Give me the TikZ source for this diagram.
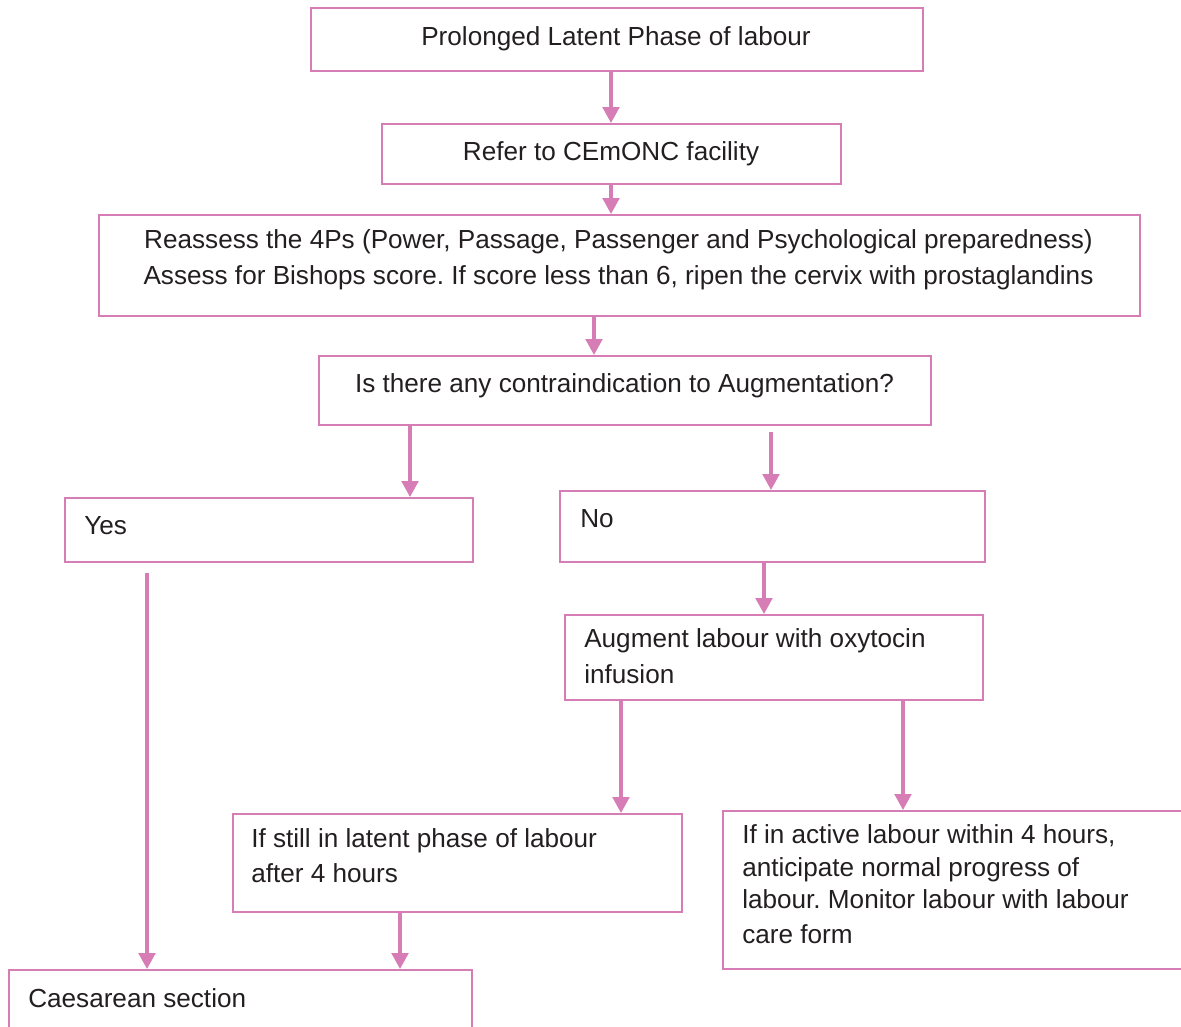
\documentclass[tikz,border=0pt]{standalone}
\usepackage{fontspec}
\setmainfont{Liberation Sans}
\usetikzlibrary{arrows.meta}
\definecolor{flow}{HTML}{D77DB5}
\definecolor{ink}{HTML}{231F20}
\frenchspacing
\begin{document}
\begin{tikzpicture}[x=0.75pt,y=-0.75pt,
  box/.style 2 args={draw=flow, line width=1.5pt, inner sep=0pt, anchor=north west,
    minimum width=#1*0.75pt, minimum height=#2*0.75pt},
  txt/.style={inner sep=0pt, text=ink, font=\fontsize{19.6}{24}\selectfont},
  lt/.style={txt, anchor=base west},
  ct/.style={txt, anchor=base},
  arr/.style={draw=flow, line width=2.4pt,
    -{Triangle[width=12.5pt,length=12pt]}}]
\useasboundingbox (0,0) rectangle (1181,1026);
\clip (0,0) rectangle (1181,1026);

% boxes
\node[box={612}{63}]  (start)  at (310,7) {};
\node[box={459}{60}]  (refer)  at (381,123) {};
\node[box={1041}{101}] (assess) at (98,214) {};
\node[box={612}{69}]  (contra) at (318,355) {};
\node[box={408}{64}]  (yes)    at (64,497) {};
\node[box={425}{71}]  (no)     at (559,490) {};
\node[box={418}{85}]  (augm)   at (564,614) {};
\node[box={449}{98}]  (latent) at (232,813) {};
\node[box={500}{158}] (active) at (722,810) {};
\node[box={463}{90}]  (cs)     at (8,969) {};

% texts
\node[ct] (tstart) at (616,45) {Prolonged Latent Phase of labour};
\node[ct] (trefer) at (611,160) {Refer to CEmONC facility};
\node[ct] (tas1) at (618.5,248) {Reassess the 4Ps (Power, Passage, Passenger and Psychological preparedness)};
\node[ct] (tas2) at (618.5,284) {Assess for Bishops score. If score less than 6, ripen the cervix with prostaglandins};
\node[ct] (tcontra) at (624.5,392) {Is there any contraindication to Augmentation?};
\node[lt] (tyes) at (84,534) {Yes};
\node[lt] (tno) at (580,527) {No};
\node[lt] (taug1) at (584,647) {Augment labour with oxytocin};
\node[lt] (taug2) at (584,683) {infusion};
\node[lt] (tlat1) at (251,847) {If still in latent phase of labour};
\node[lt] (tlat2) at (251,882) {after 4 hours};
\node[lt] (tact1) at (742,843) {If in active labour within 4 hours,};
\node[lt] (tact2) at (742,876) {anticipate normal progress of};
\node[lt] (tact3) at (742,908) {labour. Monitor labour with labour};
\node[lt] (tact4) at (742,943) {care form};
\node[lt] (tcs) at (28,1007) {Caesarean section};

% free starts of two connectors
\coordinate (noin) at (771,432);
\coordinate (yesout) at (147,573);

% connectors
\draw[arr] (611,0 |- start.south) -- (611,0 |- refer.north);
\draw[arr] (611,0 |- refer.south) -- (611,0 |- assess.north);
\draw[arr] (594,0 |- assess.south) -- (594,0 |- contra.north);
\draw[arr] (410,0 |- contra.south) -- (410,0 |- yes.north);
\draw[arr] (noin) -- (noin |- no.north);
\draw[arr] (764,0 |- no.south) -- (764,0 |- augm.north);
\draw[arr] (621,0 |- augm.south) -- (621,0 |- latent.north);
\draw[arr] (903,0 |- augm.south) -- (903,0 |- active.north);
\draw[arr] (400,0 |- latent.south) -- (400,0 |- cs.north);
\draw[arr] (yesout) -- (yesout |- cs.north);
\end{tikzpicture}
\end{document}
